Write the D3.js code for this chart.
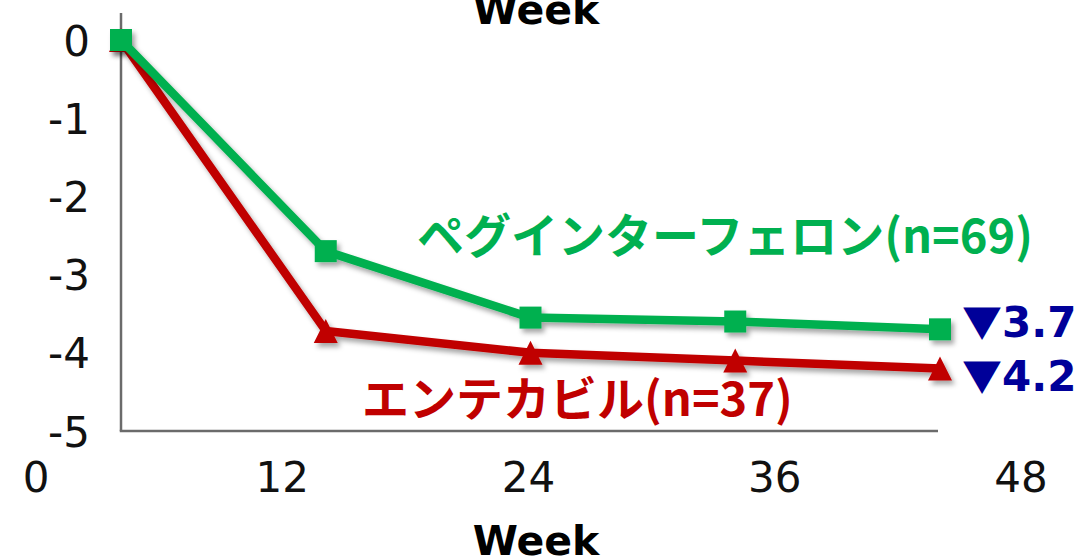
<!DOCTYPE html>
<html>
<head>
<meta charset="utf-8">
<script src="https://cdn.jsdelivr.net/npm/d3@7"></script>
<style>
  html, body { margin: 0; padding: 0; background: #fff; }
  svg { display: block; }
</style>
</head>
<body>
<svg id="chart" width="1086" height="560"></svg>
<script>
// Week of measurement
const weeks = [0, 12, 24, 36, 48];
// Mean change from baseline for each treatment group
const pegValues = [0, -2.7, -3.55, -3.6, -3.7];
const etvValues = [0, -3.72, -4.0, -4.1, -4.2];
// Axis ticks
const yTicks = [0, -1, -2, -3, -4, -5];
const xTickLabels = [0, 12, 24, 36, 48];
// Series names and end-of-study decreases
const seriesNames = ["ペグインターフェロン(n=69)", "エンテカビル(n=37)"];
const endLabels = ["3.7", "4.2"];

const svg = d3.select("#chart");
const latin = "'DejaVu Sans', Verdana, sans-serif";
const cjk = "'Noto Sans CJK JP', 'Noto Sans', sans-serif";

const x = d3.scaleLinear().domain([0, 48]).range([121, 940]);
const y = d3.scaleLinear().domain([0, -5]).range([40, 431]);
// tick labels along the bottom are spread wider than the plotting area
const xLabel = d3.scaleLinear().domain([0, 48]).range([36, 1021]);

// drop shadow used on both series
const defs = svg.append("defs");
const f = defs.append("filter").attr("id", "shadow")
  .attr("x", "-10%").attr("y", "-10%").attr("width", "130%").attr("height", "140%");
f.append("feDropShadow").attr("dx", 3).attr("dy", 4)
  .attr("stdDeviation", 2.5).attr("flood-color", "#000").attr("flood-opacity", 0.35);

// axes
const axisColor = "#6b6b6b";
svg.append("line")
  .attr("x1", x(0)).attr("x2", x(0))
  .attr("y1", 13).attr("y2", y(-5))
  .attr("stroke", axisColor).attr("stroke-width", 2.5);
svg.append("line")
  .attr("x1", x(0) - 1.25).attr("x2", 938)
  .attr("y1", y(-5)).attr("y2", y(-5))
  .attr("stroke", axisColor).attr("stroke-width", 2.5);

// y tick labels
svg.append("g").selectAll("text").data(yTicks).join("text")
  .attr("x", 90).attr("y", d => y(d) + 15.5)
  .attr("text-anchor", "end")
  .attr("font-family", latin).attr("font-size", 42).attr("fill", "#111")
  .text(d => d);

// x tick labels
svg.append("g").selectAll("text").data(xTickLabels).join("text")
  .attr("x", d => xLabel(d)).attr("y", 492)
  .attr("text-anchor", "middle")
  .attr("font-family", latin).attr("font-size", 42).attr("fill", "#111")
  .text(d => d);

// axis titles (one clipped at the top edge, one below the ticks)
[24, 555].forEach(by => {
  svg.append("text")
    .attr("x", 536).attr("y", by)
    .attr("text-anchor", "middle")
    .attr("font-family", latin).attr("font-weight", "bold")
    .attr("font-size", 41).attr("fill", "#000")
    .text("Week");
});

const line = d3.line().x(d => x(d.w)).y(d => y(d.v));
const toPts = vals => weeks.map((w, i) => ({ w: w, v: vals[i] }));

// entecavir (red, triangles)
const red = "#c00000";
const gRed = svg.append("g").attr("filter", "url(#shadow)");
gRed.append("path").datum(toPts(etvValues))
  .attr("d", line).attr("fill", "none")
  .attr("stroke", red).attr("stroke-width", 8.5).attr("stroke-linejoin", "round");
const tri = "M0,-12L12,12L-12,12Z";
gRed.selectAll("path.m").data(toPts(etvValues)).join("path")
  .attr("class", "m")
  .attr("transform", d => `translate(${x(d.w)},${y(d.v)})`)
  .attr("d", tri).attr("fill", red);

// peginterferon (green, squares)
const green = "#00b050";
const gGreen = svg.append("g").attr("filter", "url(#shadow)");
gGreen.append("path").datum(toPts(pegValues))
  .attr("d", line).attr("fill", "none")
  .attr("stroke", green).attr("stroke-width", 8.5).attr("stroke-linejoin", "round");
gGreen.selectAll("rect").data(toPts(pegValues)).join("rect")
  .attr("x", d => x(d.w) - 11).attr("y", d => y(d.v) - 11)
  .attr("width", 22).attr("height", 22)
  .attr("fill", green);

// series names
svg.append("text")
  .attr("x", 417).attr("y", 232)
  .attr("dominant-baseline", "central")
  .attr("font-family", cjk).attr("font-weight", "bold")
  .attr("font-size", 47).attr("fill", green)
  .text(seriesNames[0]);
svg.append("text")
  .attr("x", 362).attr("y", 395)
  .attr("dominant-baseline", "central")
  .attr("font-family", cjk).attr("font-weight", "bold")
  .attr("font-size", 47).attr("fill", red)
  .text(seriesNames[1]);

// decrease at week 48
const blue = "#000099";
const ends = svg.append("g").selectAll("text").data(endLabels).join("text")
  .attr("x", 962).attr("y", (d, i) => [337, 391][i])
  .attr("font-weight", "bold").attr("fill", blue);
ends.append("tspan")
  .attr("font-family", cjk).attr("font-size", 40)
  .text("▼");
ends.append("tspan")
  .attr("font-family", latin).attr("font-size", 42)
  .text(d => d);
</script>
</body>
</html>
